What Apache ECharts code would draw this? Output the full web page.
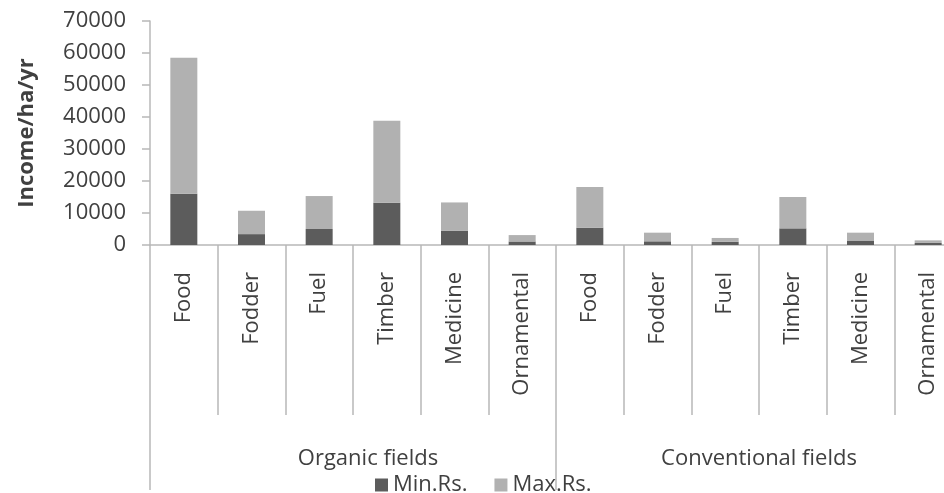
<!DOCTYPE html>
<html>
<head>
<meta charset="utf-8">
<script src="https://cdn.jsdelivr.net/npm/echarts@6/dist/echarts.min.js"></script>
<style>
  html, body { margin: 0; padding: 0; background: #fff; }
  #chart { width: 944px; height: 493px; }
</style>
</head>
<body>
<div id="chart"></div>
<script>
  // categories
  const crops = ['Food', 'Fodder', 'Fuel', 'Timber', 'Medicine', 'Ornamental',
                 'Food', 'Fodder', 'Fuel', 'Timber', 'Medicine', 'Ornamental'];
  const fieldGroups = ['Organic fields', 'Conventional fields'];
  // stacked values (Max.Rs. is the part on top of Min.Rs.)
  const minRs = [16000, 3400, 5000, 13200, 4500, 1100, 5400, 1150, 1000, 5200, 1250, 650];
  const maxRs = [42500, 7300, 10300, 25600, 8800, 2000, 12700, 2700, 1200, 9800, 2600, 800];

  const txt = '#404040';
  const lineCol = '#b8b8b8';
  const font = 'Open Sans';

  // the first group label sits a little right of centre in the original
  const groupLabelPad = [[0, 0, 0, 30], [0, 0, 0, 0]];

  const chart = echarts.init(document.getElementById('chart'));
  const option = {
    animation: false,
    textStyle: { fontFamily: font },
    // plot runs past the right edge, like the cropped original
    grid: { left: 150, right: -18, top: 21, bottom: 248, outerBoundsMode: 'none' },
    legend: {
      data: ['Min.Rs.', 'Max.Rs.'],
      left: 370,
      top: 469,
      icon: 'rect',
      itemWidth: 13,
      itemHeight: 13,
      itemGap: 27,
      textStyle: { color: txt, fontSize: 22, fontFamily: font }
    },
    xAxis: [{
      type: 'category',
      data: crops,
      axisLine: { show: true, lineStyle: { color: lineCol, width: 1.5 } },
      axisTick: { show: true, alignWithLabel: false, interval: 0, length: 170, lineStyle: { color: lineCol, width: 1.5 } },
      axisLabel: { interval: 0, rotate: 90, margin: 27, color: txt, fontSize: 22 }
    }, {
      type: 'category',
      data: fieldGroups.map((g, i) => ({ value: g, textStyle: { padding: groupLabelPad[i] } })),
      position: 'bottom',
      axisLine: { show: false },
      axisTick: { show: true, interval: 0, length: 245, lineStyle: { color: lineCol, width: 1.5 } },
      axisLabel: { interval: 0, margin: 203, color: txt, fontSize: 22 }
    }],
    yAxis: {
      type: 'value',
      min: 0,
      max: 70000,
      interval: 10000,
      name: 'Income/ha/yr',
      nameLocation: 'middle',
      nameGap: 112,
      nameTextStyle: { color: txt, fontSize: 22, fontWeight: 'bold' },
      axisLine: { show: true, lineStyle: { color: lineCol, width: 1.5 } },
      axisTick: { show: true, length: 8, lineStyle: { color: lineCol, width: 1.5 } },
      splitLine: { show: false },
      axisLabel: { margin: 24, color: txt, fontSize: 22, formatter: v => String(v) }
    },
    series: [{
      name: 'Min.Rs.',
      type: 'bar',
      stack: 'rs',
      barWidth: 27,
      itemStyle: { color: '#5c5c5c' },
      data: minRs
    }, {
      name: 'Max.Rs.',
      type: 'bar',
      stack: 'rs',
      barWidth: 27,
      itemStyle: { color: '#b1b1b1' },
      data: maxRs
    }]
  };
  chart.setOption(option);
</script>
</body>
</html>
